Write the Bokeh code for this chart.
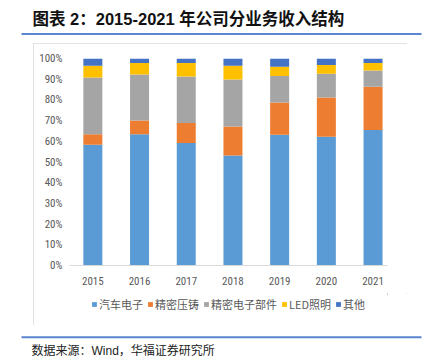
from bokeh.plotting import figure
from bokeh.layouts import column, row
from bokeh.models import (ColumnDataSource, Range1d, FixedTicker, NumeralTickFormatter,
                          Legend, LegendItem, Label, BoxAnnotation, Spacer)
from bokeh.embed import file_html
from bokeh.resources import INLINE

# ---- data ----
years = [2015, 2016, 2017, 2018, 2019, 2020, 2021]
year_labels = ["2015", "2016", "2017", "2018", "2019", "2020", "2021"]
series_names = ["汽车电子", "精密压铸", "精密电子部件", "LED照明", "其他"]
auto_elec = [58.3, 63.4, 59.2, 53.1, 63.2, 62.2, 65.5]
die_cast = [5.1, 6.6, 9.7, 14.0, 15.6, 18.9, 20.9]
elec_parts = [27.4, 22.3, 22.4, 22.8, 12.7, 11.5, 7.8]
led = [5.7, 5.5, 6.5, 6.6, 4.5, 4.2, 3.6]
other = [3.5, 2.2, 2.2, 3.5, 4.0, 3.2, 2.2]
y_ticks = [0, 0.1, 0.2, 0.3, 0.4, 0.5, 0.6, 0.7, 0.8, 0.9, 1.0]

title_text = "图表 2：2015-2021 年公司分业务收入结构"
source_text = "数据来源：Wind，华福证券研究所"

colors = ["#5B9BD5", "#ED7D31", "#A5A5A5", "#FFC000", "#4472C4"]
keys = ["s0", "s1", "s2", "s3", "s4"]
src = ColumnDataSource(dict(
    x=years,
    s0=[v / 100 for v in auto_elec],
    s1=[v / 100 for v in die_cast],
    s2=[v / 100 for v in elec_parts],
    s3=[v / 100 for v in led],
    s4=[v / 100 for v in other],
))

RULE = "#5a86cf"
TICK_FONT = "'Liberation Sans Narrow', 'Roboto Condensed', 'Roboto', sans-serif"
CJK = "Noto Sans CJK SC"
MIXED = "'Liberation Sans', 'Noto Sans CJK SC', sans-serif"

def blank_fig(w, h):
    f = figure(width=w, height=h, output_backend="svg", toolbar_location=None,
               x_range=Range1d(0, w), y_range=Range1d(h, 0),
               x_axis_type=None, y_axis_type=None, min_border=0)
    f.grid.visible = False
    f.outline_line_color = None
    f.background_fill_color = "white"
    f.border_fill_color = "white"
    return f

# ---- title strip ----
top = blank_fig(423, 43)
top.add_layout(Label(x=32, y=18, text=title_text, text_font=MIXED, text_font_style="bold",
                     text_font_size="16.5px", text_color="#111111",
                     text_baseline="middle", text_align="left"))
top.add_layout(BoxAnnotation(left=21, right=421, top=32.5, bottom=34.5,
                             fill_color=RULE, fill_alpha=1, line_color=None))

# ---- chart ----
XPX = 46.7
FW, FH = 318, 207
X0 = 2014.5
p = figure(width=374, height=250, output_backend="svg", toolbar_location=None,
           x_range=Range1d(X0, X0 + FW / XPX), y_range=Range1d(0, 1),
           min_border_left=36, min_border_right=20, min_border_top=15, min_border_bottom=28)
p.background_fill_color = "white"
p.border_fill_color = "white"
p.outline_line_color = None
p.grid.visible = False

p.vbar_stack(keys, x="x", width=19 / XPX, color=colors, line_color=None, source=src)

ax = p.xaxis[0]
ax.ticker = FixedTicker(ticks=years)
ax.major_label_overrides = {y: l for y, l in zip(years, year_labels)}
ax.axis_line_color = "#d9d9d9"
ax.major_tick_line_color = None
ax.minor_tick_line_color = None
ax.major_tick_out = 0
ax.major_tick_in = 0
ax.major_label_standoff = 11
ax.major_label_text_font = TICK_FONT
ax.major_label_text_font_size = "11px"
ax.major_label_text_color = "#595959"

ay = p.yaxis[0]
ay.ticker = FixedTicker(ticks=y_ticks)
ay.formatter = NumeralTickFormatter(format="0%")
ay.axis_line_color = None
ay.major_tick_line_color = None
ay.minor_tick_line_color = None
ay.major_tick_out = 0
ay.major_tick_in = 0
ay.major_label_standoff = 7
ay.major_label_text_font = TICK_FONT
ay.major_label_text_font_size = "11px"
ay.major_label_text_color = "#595959"

# ---- legend strip (legend keys drawn from the same series, kept off-screen) ----
lg = blank_fig(374, 32)
lrs = lg.vbar_stack(keys, x="x", width=0.4, color=colors, line_color=None, source=src)
items = [LegendItem(label=n, renderers=[r]) for n, r in zip(series_names, lrs)]
leg = Legend(items=items, orientation="horizontal", location=(22, 13),
             glyph_width=6, glyph_height=6, label_standoff=2, spacing=4,
             padding=0, margin=0, label_height=12,
             label_text_font="'Liberation Sans Narrow', 'Noto Sans CJK SC', sans-serif",
             label_text_font_size="11px",
             label_text_color="#595959", border_line_color=None,
             background_fill_alpha=0)
lg.add_layout(leg, "center")

box = column(p, lg, spacing=0)
box.styles = {"outline": "1px solid #d9d9d9", "outline-offset": "-1px"}
mid = row(Spacer(width=33, height=282), box, spacing=0)

# ---- source strip ----
bot = blank_fig(423, 37)
bot.add_layout(BoxAnnotation(left=21, right=421, top=10.7, bottom=12.7,
                             fill_color=RULE, fill_alpha=1, line_color=None))
bot.add_layout(Label(x=31, y=25, text=source_text, text_font=MIXED, text_font_size="12px",
                     text_color="#222222", text_baseline="middle", text_align="left"))

layout = column(top, mid, bot, spacing=0)
open("out.html", "w").write(file_html(layout, INLINE))
